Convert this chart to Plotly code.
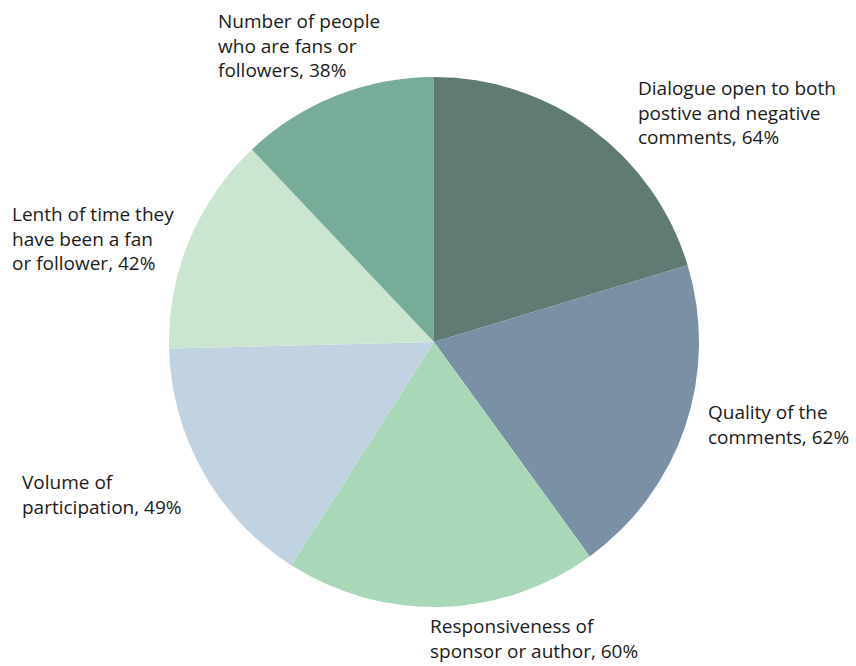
import plotly.graph_objects as go

# Share of respondents citing each factor
categories = [
    "Dialogue open to both<br>postive and negative<br>comments",
    "Quality of the<br>comments",
    "Responsiveness of<br>sponsor or author",
    "Volume of<br>participation",
    "Lenth of time they<br>have been a fan<br>or follower",
    "Number of people<br>who are fans or<br>followers",
]
values = [64, 62, 60, 49, 42, 38]
colors = ["#5f7b73", "#7990a5", "#a8d8b8", "#c1d3e1", "#cbe6d0", "#77ad98"]

# Label anchor points (pixels from top-left of the 856x666 canvas)
label_px = [(636, 73), (706, 397), (428, 611), (20, 467), (10, 199), (216, 6)]

W, H = 856, 666
cx, cy, r = 434, 342, 265

fig = go.Figure(
    go.Pie(
        labels=categories,
        values=values,
        sort=False,
        direction="clockwise",
        rotation=0,
        marker=dict(colors=colors, line=dict(width=0)),
        textinfo="none",
        hoverinfo="label+value",
        showlegend=False,
        domain=dict(
            x=[(cx - r) / W, (cx + r) / W],
            y=[(H - cy - r) / H, (H - cy + r) / H],
        ),
    )
)

for text, v, (px, py) in zip(categories, values, label_px):
    fig.add_annotation(
        x=px / W,
        y=1 - py / H,
        xref="paper",
        yref="paper",
        xanchor="left",
        yanchor="top",
        align="left",
        showarrow=False,
        text=f"{text}, {v}%",
        font=dict(family="Open Sans", size=19, color="#1a1a1a"),
    )

fig.update_layout(
    width=W,
    height=H,
    margin=dict(l=0, r=0, t=0, b=0),
    paper_bgcolor="white",
    plot_bgcolor="white",
)

fig.write_html("out.html")
